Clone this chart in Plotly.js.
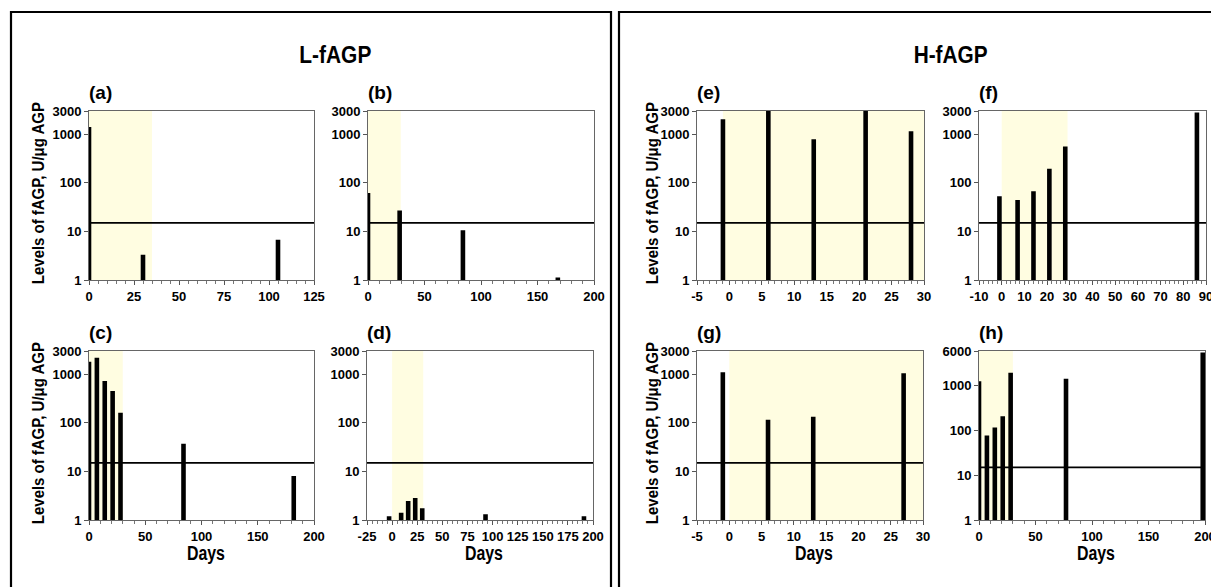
<!DOCTYPE html>
<html>
<head>
<meta charset="utf-8">
<script src="https://cdn.plot.ly/plotly-3.0.1.min.js"></script>
<style>html,body{margin:0;padding:0;background:#fff;}#chart{width:1211px;height:587px;}</style>
</head>
<body>
<div id="chart"></div>
<script>
// ---- Data ----
const daysA = [0, 30, 105];
const valsA = [1400, 3.3, 6.7];
const daysB = [0, 28, 84, 168];
const valsB = [62, 27, 10.5, 1.12];
const daysC = [0, 7, 14, 21, 28, 84, 182];
const valsC = [1800, 2170, 720, 450, 160, 37, 8];
const daysD = [-3, 9, 16, 23, 30, 93, 191];
const valsD = [1.19, 1.41, 2.46, 2.83, 1.74, 1.31, 1.19];
const daysE = [-1, 6, 13, 21, 28];
const valsE = [2020, 3000, 790, 3000, 1150];
const daysF = [-1, 7, 14, 21, 28, 86];
const valsF = [53, 44, 67, 195, 558, 2810];
const daysG = [-1, 6, 13, 27];
const valsG = [1100, 115, 133, 1050];
const daysH = [0, 7, 14, 21, 28, 77, 198];
const valsH = [1260, 77, 117, 209, 1960, 1440, 5590];

const panelLabels = ['(a)', '(b)', '(c)', '(d)', '(e)', '(f)', '(g)', '(h)'];
const shadeStart = [0, 0, 0, 0, -1, 0, 0, 0];
const shadeEnd = [35, 29, 30, 31, 30, 29, 30, 30];
const threshold = 15;
const xRanges = [[0,125],[0,200],[0,200],[-25,200],[-5,30],[-10,90],[-5,30],[0,200]];
const xDticks = [25, 50, 50, 25, 5, 10, 5, 50];
const yTicks3000 = [1, 10, 100, 1000, 3000];
const yTicks6000 = [1, 10, 100, 1000, 6000];
const groupTitles = ['L-fAGP', 'H-fAGP'];
const yTitle = 'Levels of fAGP, U/\u03bcg AGP';
const xTitle = 'Days';

const allDays = [daysA, daysB, daysC, daysD, daysE, daysF, daysG, daysH];
const allVals = [valsA, valsB, valsC, valsD, valsE, valsF, valsG, valsH];

// ---- Layout geometry (pixels) ----
const W = 1211, H = 587;
const boxes = [ // [left, right, top, bottom] in px
  [89, 314, 111, 280], [368, 594, 111, 280],
  [89, 314, 351, 520], [367, 593, 351, 520],
  [697, 924, 111, 280], [979, 1206, 111, 280],
  [697, 923, 351, 520], [979, 1205, 351, 520]
];
const barPx = 4.6;
const shadeColor = '#FFFDE1';
const FONT = '"Liberation Sans", Arial, sans-serif';

const fx = p => p / W;
const fy = p => 1 - p / H;

const traces = [];
const layout = {
  width: W, height: H,
  margin: {l: 0, r: 0, t: 0, b: 0},
  paper_bgcolor: '#fff', plot_bgcolor: 'rgba(0,0,0,0)',
  showlegend: false,
  shapes: [], annotations: [],
  font: {family: FONT, color: '#000'}
};

for (let i = 0; i < 8; i++) {
  const n = i + 1;
  const xa = 'x' + (n === 1 ? '' : n), ya = 'y' + (n === 1 ? '' : n);
  const xk = 'xaxis' + (n === 1 ? '' : n), yk = 'yaxis' + (n === 1 ? '' : n);
  const [l, r, t, b] = boxes[i];
  const span = xRanges[i][1] - xRanges[i][0];
  const wData = barPx * span / (r - l);
  traces.push({
    type: 'bar', x: allDays[i], y: allVals[i], xaxis: xa, yaxis: ya,
    width: allDays[i].map(() => wData),
    marker: {color: '#000', line: {width: 0}}, hoverinfo: 'x+y'
  });
  const xtv = [];
  for (let v = xRanges[i][0]; v <= xRanges[i][1] + 1e-9; v += xDticks[i]) xtv.push(v);
  const yt = (i === 7) ? yTicks6000 : yTicks3000;
  layout[xk] = {
    domain: [fx(l), fx(r)], anchor: ya, range: xRanges[i],
    tickmode: 'array', tickvals: xtv, ticktext: xtv.map(v => String(v)),
    ticks: 'outside', ticklen: 4, tickwidth: 1, tickcolor: '#555',
    minor: {tickmode: 'linear', tick0: 0, dtick: xDticks[i] / 5, ticks: 'outside', ticklen: 2.5, tickcolor: '#777'},
    showline: true, linecolor: '#666', linewidth: 1, mirror: true,
    showgrid: false, zeroline: false, fixedrange: true,
    ticklabeloverflow: 'allow',
    tickfont: {family: FONT, size: 13, color: '#000', weight: 'bold'}
  };
  layout[yk] = {
    domain: [fy(b), fy(t)], anchor: xa, type: 'log',
    range: [0, Math.log10(yt[yt.length - 1])],
    tickmode: 'array', tickvals: yt, ticktext: yt.map(String),
    ticks: 'outside', ticklen: 4, tickwidth: 1, tickcolor: '#555',
    showline: true, linecolor: '#666', linewidth: 1, mirror: true,
    showgrid: false, zeroline: false, fixedrange: true,
    tickfont: {family: FONT, size: 13, color: '#000', weight: 'bold'}
  };
  // shaded treatment window
  layout.shapes.push({
    type: 'rect', xref: xa, yref: ya + ' domain', x0: shadeStart[i], x1: shadeEnd[i], y0: 0, y1: 1,
    fillcolor: shadeColor, line: {width: 0}, layer: 'below'
  });
  // threshold line
  layout.shapes.push({
    type: 'line', xref: xa + ' domain', yref: ya, x0: 0, x1: 1, y0: threshold, y1: threshold,
    line: {color: '#000', width: 1.6}, layer: 'above'
  });
  // panel label
  layout.annotations.push({
    text: panelLabels[i], xref: 'paper', yref: 'paper', x: fx(l - 2), y: fy(t - 19),
    xanchor: 'left', yanchor: 'middle', showarrow: false,
    font: {family: FONT, size: 19, color: '#000', weight: 'bold'}
  });
  if (i === 0 || i === 2 || i === 4 || i === 6) {
    const tx = (i < 4) ? 38 : 652;
    layout.annotations.push({
      text: yTitle, xref: 'paper', yref: 'paper', x: fx(tx), y: fy((t + b) / 2 - 2),
      xanchor: 'center', yanchor: 'middle', textangle: -90, showarrow: false,
      font: {family: FONT, size: 16, color: '#000', weight: 'bold'}
    });
  }
  if (i === 2 || i === 3 || i === 6 || i === 7) {
    layout.annotations.push({
      text: xTitle, xref: 'paper', yref: 'paper', x: fx((l + r) / 2 + 4), y: fy(553),
      xanchor: 'center', yanchor: 'middle', showarrow: false,
      font: {family: FONT, size: 20, color: '#000', weight: 'bold'}
    });
  }
}

layout.annotations.push({
  text: groupTitles[0], xref: 'paper', yref: 'paper', x: fx(335), y: fy(55),
  xanchor: 'center', yanchor: 'middle', showarrow: false,
  font: {family: FONT, size: 24, color: '#000', weight: 'bold'}
});
layout.annotations.push({
  text: groupTitles[1], xref: 'paper', yref: 'paper', x: fx(950), y: fy(55),
  xanchor: 'center', yanchor: 'middle', showarrow: false,
  font: {family: FONT, size: 24, color: '#000', weight: 'bold'}
});

layout.shapes.push({
  type: 'rect', xref: 'paper', yref: 'paper', x0: fx(11), x1: fx(611), y0: -0.05, y1: fy(12),
  line: {color: '#000', width: 2.2}, fillcolor: 'rgba(0,0,0,0)', layer: 'above'
});
layout.shapes.push({
  type: 'rect', xref: 'paper', yref: 'paper', x0: fx(619), x1: 1.05, y0: -0.05, y1: fy(12),
  line: {color: '#000', width: 2.2}, fillcolor: 'rgba(0,0,0,0)', layer: 'above'
});

// condensed look for the bold titles (the reference uses a condensed face)
const condensedLengths = {};
condensedLengths[yTitle] = 182;
condensedLengths[xTitle] = 38;
condensedLengths[groupTitles[0]] = 72;
condensedLengths[groupTitles[1]] = 74;

Plotly.newPlot('chart', traces, layout, {displayModeBar: false, staticPlot: true}).then(gd => {
  gd.querySelectorAll('text.annotation-text').forEach(el => {
    const len = condensedLengths[el.textContent];
    if (len) {
      el.setAttribute('textLength', String(len));
      el.setAttribute('lengthAdjust', 'spacingAndGlyphs');
    }
  });
});
</script>
</body>
</html>
